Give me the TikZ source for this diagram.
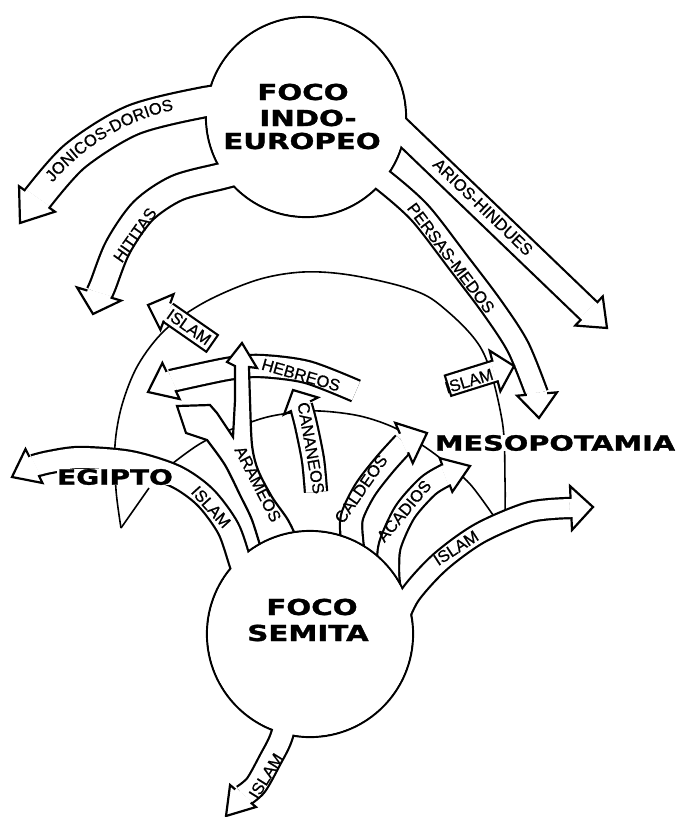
\documentclass[tikz,border=0pt]{standalone}
\usepackage{fontspec}
\usepackage{graphicx}
\usetikzlibrary{calc}
\newfontfamily\labfont{Liberation Sans}[FakeBold=0.7]
\newfontfamily\headfont{DejaVu Sans}[BoldFeatures={FakeBold=1.2}]
\newcommand\hd[1]{\scalebox{1.33}[1]{#1}}
\newcommand\bandbody[3][]{%
  \draw[line width=#2+4.4pt] #3;
  \draw[line width=#2, white, #1] #3;}
\newcommand\bandhead[4]{%
  \draw[line width=2.2pt, fill=white, line join=miter, miter limit=20]
    ($(#1)!#3!90:(#2)$) -- (#2) -- ($(#1)!#3!-90:(#2)$) -- cycle;
  \draw[line width=#4, white] ($(#1)!-1.5pt!(#2)$) -- ($(#1)!3pt!(#2)$);}
\tikzset{
  lab/.style={font=\labfont\fontsize{16.5}{18}\selectfont, inner sep=0pt},
  bigtxt/.style={font=\headfont\bfseries\fontsize{22}{24}\selectfont, inner sep=0.5pt},
  arcline/.style={line width=1.6pt},
  outl/.style={line width=2.2pt},
  focus/.style={circle, draw, line width=2.2pt, fill=white, inner sep=0pt},
  focusin/.style={circle, fill=white, inner sep=0pt}
}
\begin{document}
\begin{tikzpicture}[x=1pt,y=-1pt]
\useasboundingbox (0,0) rectangle (679,817);
\fill[white] (0,0) rectangle (679,817);

% ---------- background arcs ----------
\coordinate (vtip) at (121,528);
\coordinate (vbarb) at (149,488);
\draw[arcline] plot[smooth,tension=0.55] coordinates {(505,512) (505,480) (502,420) (482,350) (440,305) (407,288) (350,275) (303,272) (257,280) (205,302) (165,330) (138,365) (122,405) (115,445) (116,490) (121,528)};
\draw[arcline] (vtip) -- (vbarb);
\draw[arcline] plot[smooth,tension=0.55] coordinates {(162,472) (203,442) (257,420) (290,413) (320,411) (360,416) (395,428) (425,447) (445,462) (470,484) (493,515)};
\node[bigtxt, fill=white, font=\headfont\bfseries\fontsize{21}{23}\selectfont] (meso) at (555,443) {\scalebox{1.37}[1]{MESOPOTAMIA}};

% ---------- Indo-European focus ----------
\node[focus, minimum size=200pt] (indo) at (306,117) {};
% Jonicos-Dorios
\coordinate (jonC) at (220,324);
\coordinate (jonB) at (37,199); \coordinate (jonT) at (20,223);
\bandbody{28pt}{plot[smooth] coordinates {(235,100) (205,102) (133,120) (75,156) (37,199)}}
\bandhead{jonB}{jonT}{22pt}{28pt}
% Hititas
\coordinate (hitB) at (99,294); \coordinate (hitT) at (93,314);
\bandbody{24pt}{plot[smooth] coordinates {(245,170) (222,176) (177,188) (143,211) (118,247) (103,285) (99,294)}}
\bandhead{hitB}{hitT}{23pt}{24pt}
% Persas-Medos
\coordinate (perB) at (537,394); \coordinate (perT) at (539,418);
\bandbody{20pt}{plot[smooth] coordinates {(360,165) (384,181) (420,213) (458,262) (492,307) (518,347) (537,394)}}
\bandhead{perB}{perT}{20pt}{20pt}
% Arios-Hindues
\coordinate (ariS) at (385,115); \coordinate (ariB) at (589,311); \coordinate (ariT) at (607,328);
\bandbody{22pt}{(ariS) -- (ariB)}
\bandhead{ariB}{ariT}{20pt}{22pt}
\node[focusin, minimum size=197.8pt] (indoin) at (indo.center) {};
\node[bigtxt] (indo1) at (303,92) {\hd{FOCO}};
\node[bigtxt] (indo2) at (308,118) {\hd{INDO-}};
\node[bigtxt] (indo3) at (302,141) {\hd{EUROPEO}};
\foreach \ch/\a [count=\i] in {J/-138.75, O/-135.99, N/-132.75, I/-130.60, C/-128.44, O/-125.20, S/-122.08, -/-119.92, D/-117.65, O/-114.41, R/-111.17, I/-109.01, O/-106.73, S/-103.61}
  \node[lab, anchor=base, rotate={-(\a)-90}] (jon\i) at ($(jonC)+(\a:219)$) {\ch};
\node[lab, rotate=55] (lhit) at (135,235) {HITITAS};
\node[lab, rotate=-53] (lper) at (451,258) {PERSAS-MEDOS};
\node[lab, rotate=-44] (lari) at (483,207) {ARIOS-HINDUES};

% ---------- small Islam arrows ----------
\coordinate (isaS) at (213,344); \coordinate (isaB) at (167,312); \coordinate (isaT) at (148,305);
\bandbody[shorten <=2.2pt]{18pt}{(isaS) -- (isaB)}
\bandhead{isaB}{isaT}{19pt}{18pt}
\node[lab, rotate=-35] (lisa) at (189,327) {ISLAM};
\coordinate (isbS) at (447,386); \coordinate (isbB) at (495,371); \coordinate (isbT) at (514,366);
\bandbody[shorten <=2.2pt]{19pt}{(isbS) -- (isbB)}
\bandhead{isbB}{isbT}{21pt}{19pt}
\node[lab, rotate=17] (lisb) at (469,381) {ISLAM};

% ---------- Hebreos ----------
\coordinate (hebB) at (171,381); \coordinate (hebT) at (148,392);
\bandbody{20pt}{plot[smooth] coordinates {(356,391) (307,372) (260,366) (227,369) (171,381)}}
\bandhead{hebB}{hebT}{20pt}{20pt}
\node[lab, rotate=-16] (lheb) at (301,375) {HEBREOS};

% ---------- Semitic arrows closed by the circle ----------
% Arameos (forked)
\coordinate (araAT) at (177,406); \coordinate (araBT) at (242,343);
\draw[outl, fill=white, line join=miter]
  plot[smooth] coordinates {(262,552) (252,520) (240,495) (225,465) (207,440)}
  -- (186,433) -- (araAT) -- (210,405) -- (217,413) -- (233,437)
  -- (235,400) -- (235,366) -- (227,362) -- (araBT) -- (257,368) -- (249,367)
  -- plot[smooth] coordinates {(249,367) (250,400) (252,445) (258,470) (272,497) (288,520) (300,545)}
  -- cycle;
% Cananeos (open tail)
\coordinate (canB) at (301,406); \coordinate (canT) at (293,390);
\bandbody{20pt}{plot[smooth] coordinates {(316,492) (313,460) (306,425) (301,406)}}
\bandhead{canB}{canT}{19pt}{20pt}
% Caldeos
\coordinate (calB) at (404,443); \coordinate (calT) at (427,433);
\bandbody{20pt}{plot[smooth] coordinates {(355,560) (352,540) (352,517) (365,490) (385,464) (404,443)}}
\bandhead{calB}{calT}{22pt}{20pt}
% Acadios
\coordinate (acaB) at (446,475); \coordinate (acaT) at (470,466);
\bandbody{20pt}{plot[smooth] coordinates {(389,585) (388,570) (390,545) (405,512) (428,486) (446,475)}}
\bandhead{acaB}{acaT}{18pt}{20pt}

% ---------- Semitic focus ----------
\node[focus, minimum size=206pt] (semita) at (310,634) {};
% Egipto / Islam
\coordinate (egiB) at (34,466); \coordinate (egiT) at (12,477);
\bandbody{20pt}{plot[smooth] coordinates {(252,600) (240,562) (228,528) (205,497) (175,476) (130,462) (80,458) (50,462) (34,466)}}
\bandhead{egiB}{egiT}{19pt}{20pt}
% Islam (east)
\coordinate (iseB) at (571,508); \coordinate (iseT) at (593,507);
\bandbody{18pt}{plot[smooth] coordinates {(396,625) (410,595) (440,562) (480,533) (530,512) (571,508)}}
\bandhead{iseB}{iseT}{22pt}{18pt}
% Islam (south)
\coordinate (issB) at (243,796); \coordinate (issT) at (226,816);
\bandbody{20pt}{plot[smooth] coordinates {(290,705) (281,738) (270,760) (256,785) (243,796)}}
\bandhead{issB}{issT}{17pt}{20pt}
\node[focusin, minimum size=203.8pt] (semitain) at (semita.center) {};
\node[bigtxt] (sem1) at (312,607) {\hd{FOCO}};
\node[bigtxt] (sem2) at (308,633) {\hd{SEMITA}};

% labels on semitic arrows
\node[bigtxt, fill=white, font=\headfont\bfseries\fontsize{21}{23}\selectfont] (egipto) at (115,477) {\hd{EGIPTO}};
\node[lab, rotate=-48] (legi) at (211,507) {ISLAM};
\node[lab, rotate=-63] (lara) at (258,484) {ARAMEOS};
\node[lab, rotate=-80] (lcan) at (311,448) {CANANEOS};
\node[lab, rotate=55] (lcal) at (361,489) {CALDEOS};
\node[lab, rotate=50] (laca) at (404,511) {ACADIOS};
\node[lab, rotate=33] (lise) at (456,548) {ISLAM};
\node[lab, rotate=58] (liss) at (266,776) {ISLAM};
\end{tikzpicture}
\end{document}
